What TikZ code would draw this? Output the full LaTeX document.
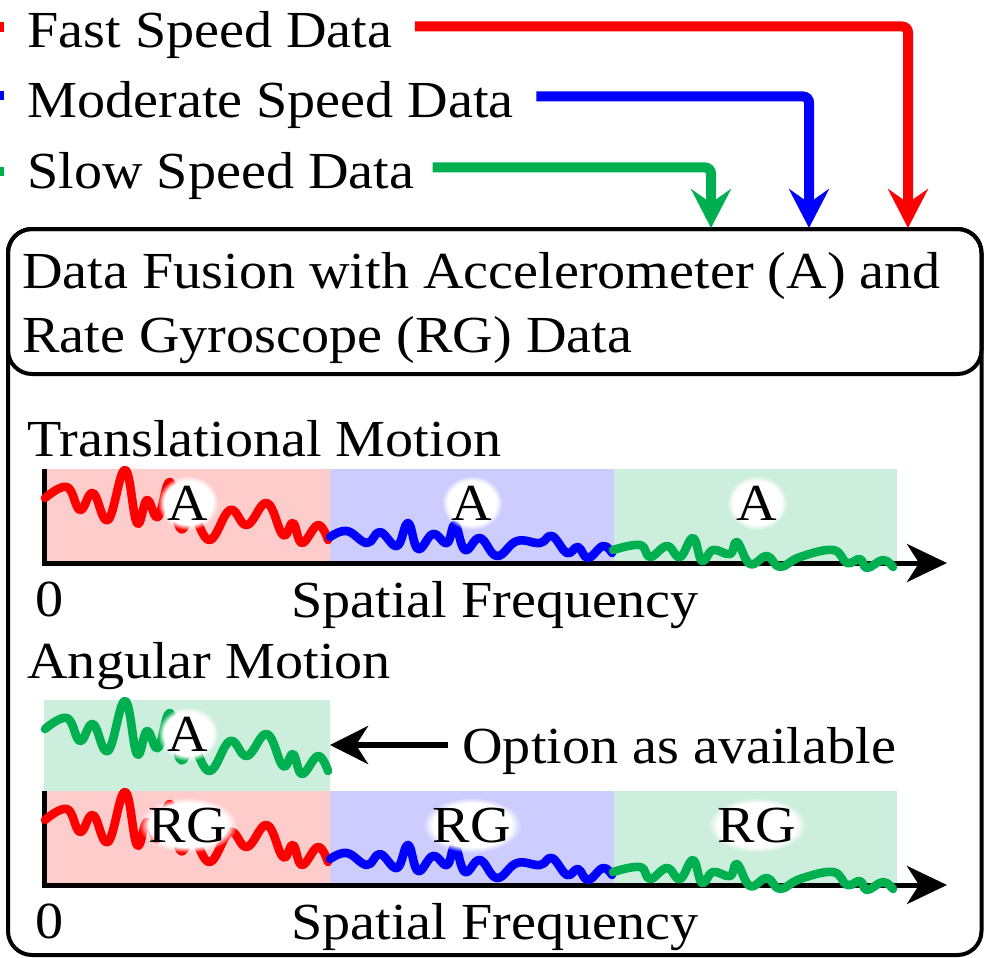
\documentclass[tikz,border=0pt]{standalone}
\usepackage{fontspec}
\setmainfont{Liberation Serif}[FakeStretch=1.08]
\usepackage{tikz}
\usetikzlibrary{arrows.meta}
\usetikzlibrary{calc}
\usetikzlibrary{fadings}
\definecolor{fastred}{RGB}{255,0,0}
\definecolor{modblue}{RGB}{0,0,255}
\definecolor{slowgreen}{RGB}{0,176,80}
\definecolor{fastband}{RGB}{255,204,204}
\definecolor{modband}{RGB}{204,204,255}
\definecolor{slowband}{RGB}{204,238,220}
\tikzset{
  feed/.style={line width=5pt, rounded corners=3pt, -{Stealth[length=19.5pt,width=20pt,inset=7pt]}},
  wave/.style={line width=4.3pt, line cap=round, line join=round},
  axis/.style={line width=2.5pt, -{Stealth[length=20pt,width=19pt,inset=6pt]}},
  optarrow/.style={line width=3pt, -{Stealth[length=19pt,width=19pt,inset=6pt]}},
  frame/.style={line width=2pt, rounded corners=12pt},
  txt/.style={anchor=base west, inner sep=0pt},
  glow/.style={anchor=base, fill=white, inner sep=5pt, path fading=circle with fuzzy edge 20 percent}
}
\newcommand{\band}[5]{\fill[#5] (#1,#2) rectangle (#3,#4);}
\newcommand{\fastwave}[1]{\draw[wave,#1] plot[smooth,tension=.7] coordinates {(45,498) (67,487) (80,510) (93,493) (108,520) (125,470) (137,523) (147,500) (158,517) (170,482) (180,528) (193,517) (210,540) (230,510) (247,525) (267,503) (283,535) (293,523) (302,543) (318,525) (328,540)};}
\newcommand{\modwave}[1]{\draw[wave,#1] plot[smooth,tension=.7] coordinates {(330,537) (347,531) (367,543) (380,532) (397,546) (408,523) (418,549) (433,534) (447,543) (455,525) (465,550) (480,538) (497,556) (517,541) (540,543) (552,536) (567,553) (578,547) (588,558) (603,546) (612,553)};}
\newcommand{\slowwave}[1]{\draw[wave,#1] plot[smooth,tension=.7] coordinates {(613,550) (640,545) (650,557) (667,546) (680,557) (693,538) (702,561) (713,550) (730,554) (737,542) (750,564) (767,556) (780,567) (800,557) (833,550) (847,563) (860,559) (867,568) (883,560) (893,567)};}

\begin{document}
\begin{tikzpicture}[x=0.5pt,y=-0.5pt,font=\fontsize{26pt}{32pt}\selectfont]
\useasboundingbox (0,0) rectangle (986,958);
% legend
\node[txt] (fast) at (27,47) {Fast Speed Data};
\node[txt] (moderate) at (27,117) {Moderate Speed Data};
\node[txt] (slow) at (27,188) {Slow Speed Data};
\fill[fastred] (0,22) rectangle (4,32);
\fill[modblue] (0,91) rectangle (4,100);
\fill[slowgreen] (0,167) rectangle (4,176);
% fusion box
\draw[frame] (8,229) rectangle (981.5,955);
\draw[frame] (8,229) rectangle (981.5,374);
\node[txt] (fusiontop) at (22,288) {Data Fusion with Accelerometer (A) and};
\node[txt] (fusionbot) at (22,352) {Rate Gyroscope (RG) Data};
% feeds into the box
\coordinate (fastin) at (908,228);
\coordinate (modin) at (809,228);
\coordinate (slowin) at (711,228);
\draw[feed,fastred] ([xshift=11pt,yshift=4pt]fast.east) -| (fastin);
\draw[feed,modblue] ([xshift=11pt,yshift=4pt]moderate.east) -| (modin);
\draw[feed,slowgreen] ([xshift=9pt,yshift=4pt]slow.east) -| (slowin);
% translational motion
\node[txt] (trans) at (27,456) {Translational Motion};
\band{44}{469}{330}{563}{fastband}
\band{330}{469}{614}{563}{modband}
\band{614}{469}{897}{563}{slowband}
\coordinate (ttop) at (44,469);
\coordinate (torig) at (44,563);
\coordinate (tend) at (947,563);
\draw[axis] (ttop) -- (torig) -- (tend);
\fastwave{fastred}
\modwave{modblue}
\slowwave{slowgreen}
\node[glow] (ta1) at (188,520) {A};
\node[glow] (ta2) at (472,520) {A};
\node[glow] (ta3) at (757,520) {A};
\node[txt] (tzero) at (35,616) {0};
\node[anchor=base, inner sep=0pt] (tfreq) at (495,617) {Spatial Frequency};
% angular motion
\node[txt] (ang) at (27,678) {Angular Motion};
\band{44}{700}{330}{791}{slowband}
\begin{scope}[shift={(0,231)}]
\fastwave{slowgreen}
\end{scope}
\node[glow] (aa) at (188,751) {A};
\coordinate (aboxe) at (330,745);
\node[txt] (opt) at (462,763) {Option as available};
\draw[optarrow] ($(opt.west |- aboxe)+(-14,0)$) -- (aboxe);
% rate gyroscope chart
\begin{scope}[shift={(0,322)}]
\band{44}{469}{330}{563}{fastband}
\band{330}{469}{614}{563}{modband}
\band{614}{469}{897}{563}{slowband}
\coordinate (gtop) at (44,469);
\coordinate (gorig) at (44,563);
\coordinate (gend) at (947,563);
\draw[axis] (gtop) -- (gorig) -- (gend);
\fastwave{fastred}
\modwave{modblue}
\slowwave{slowgreen}
\node[glow] (ga1) at (188,520) {RG};
\node[glow] (ga2) at (472,520) {RG};
\node[glow] (ga3) at (757,520) {RG};
\node[txt] (gzero) at (35,616) {0};
\node[anchor=base, inner sep=0pt] (gfreq) at (495,617) {Spatial Frequency};
\end{scope}
\end{tikzpicture}
\end{document}
